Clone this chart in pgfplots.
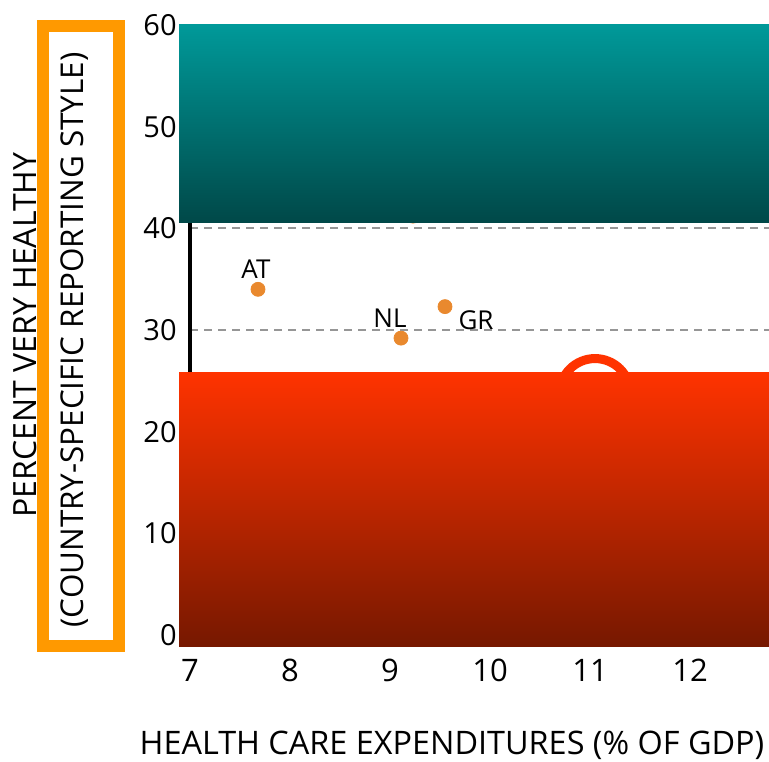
\documentclass[border=0pt]{standalone}
\usepackage{fontspec}
\setmainfont{Open Sans}
\usepackage{pgfplots}
\pgfplotsset{compat=1.18}

\definecolor{dotorange}{RGB}{233,137,46}
\definecolor{boxorange}{RGB}{255,153,0}
\definecolor{redtop}{RGB}{255,51,0}
\definecolor{redbot}{RGB}{118,24,0}
\definecolor{tealtop}{RGB}{0,153,153}
\definecolor{tealbot}{RGB}{0,72,72}
\definecolor{gridgray}{RGB}{150,150,150}

\begin{document}
\begin{tikzpicture}
\useasboundingbox (-95pt,-63pt) rectangle (289.5pt,317.5pt);
\begin{axis}[
    at={(0pt,0pt)}, anchor=south west,
    scale only axis,
    width=289.5pt, height=305pt,
    xmin=7, xmax=12.79,
    ymin=0, ymax=60,
    xtick={7,8,...,12},
    ytick={0,10,...,60},
    axis x line=bottom,
    axis y line=left,
    x axis line style={draw=none},
    y axis line style={-, line width=1.75pt, black},
    major tick length=0pt,
    ymajorgrids,
    major grid style={gridgray, line width=1pt, dash pattern=on 4pt off 3pt},
    /pgf/number format/assume math mode=true,
    ticklabel style={inner sep=0pt},
    xticklabel style={font=\fontsize{15.5}{17}\selectfont, anchor=north, yshift=-12pt},
    yticklabel style={font=\fontsize{14.5}{16}\selectfont, anchor=east, xshift=-6.5pt},
    clip=false,
]
% countries
\addplot[only marks, mark=*, mark size=3.5pt, dotorange]
    coordinates {(7.68,34.0) (9.11,29.2) (9.55,32.3) (9.23,41.2)};
% highlight ring
\addplot[only marks, mark=o, mark size=17.75pt,
    mark options={line width=4.5pt, draw=redtop}]
    coordinates {(11.05,23.7)};

\node[font=\fontsize{13}{15}\selectfont] at (axis cs:7.66,36.0) {AT};
\node[font=\fontsize{13}{15}\selectfont] at (axis cs:9.0,31.15) {NL};
\node[font=\fontsize{13}{15}\selectfont] at (axis cs:9.86,31.0) {GR};
\end{axis}

% cover-up blocks
\shade[top color=tealtop, bottom color=tealbot] (-5.5pt,206.15pt) rectangle (289.5pt,305pt);
\shade[top color=redtop, bottom color=redbot] (-5.5pt,-5.5pt) rectangle (289.5pt,131.15pt);

% axis titles
\node[rotate=90, font=\fontsize{16}{18}\selectfont] at (-82.25pt,150pt) {PERCENT VERY HEALTHY};
\node[rotate=90, font=\fontsize{15.7}{18}\selectfont] at (-57.75pt,147.5pt) {(COUNTRY-SPECIFIC REPORTING STYLE)};
\draw[boxorange, line width=6pt] (-73.5pt,-5.25pt) rectangle (-35.5pt,304.5pt);
\node[font=\fontsize{16.2}{18}\selectfont] at (131pt,-55pt) {HEALTH CARE EXPENDITURES (\% OF GDP)};
\end{tikzpicture}
\end{document}
